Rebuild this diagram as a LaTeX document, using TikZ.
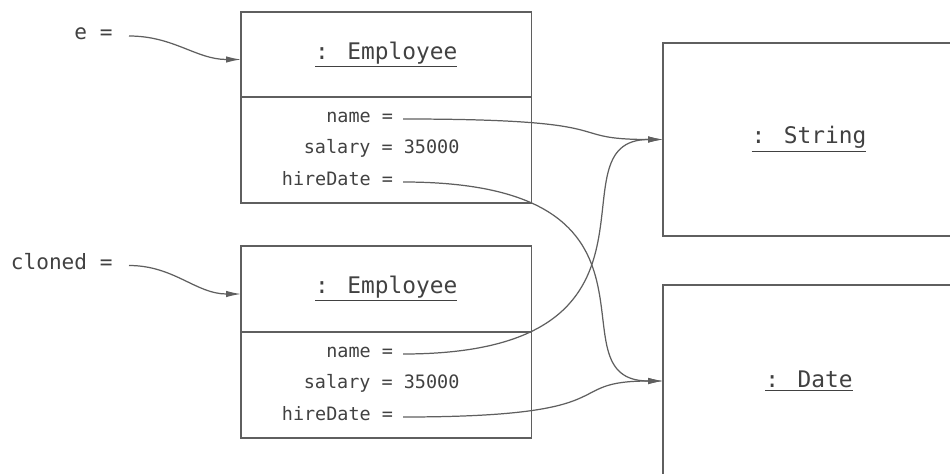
\documentclass[tikz,border=0pt]{standalone}
\usepackage{fontspec}
\newfontfamily\codefont{DejaVu Sans Mono}
\usetikzlibrary{positioning,arrows.meta}
\definecolor{ink}{RGB}{95,95,95}
\definecolor{txt}{RGB}{65,65,65}

\begin{document}
\begin{tikzpicture}[
  obj/.style={draw=ink, line width=1pt, text=txt, inner sep=0pt, outer sep=0pt,
    font=\codefont\fontsize{13}{15}\selectfont},
  fld/.style={text=txt, inner sep=0pt, font=\codefont\fontsize{10.5}{12}\selectfont},
  ptr/.style={fld, outer xsep=2mm, anchor=mid east},
  var/.style={text=txt, inner sep=0pt, outer xsep=3.3mm, anchor=mid east,
    font=\codefont\fontsize{12}{14}\selectfont},
  ref/.style={draw=ink, line width=0.7pt, -{Latex[length=3mm,width=1.3mm]}}]
  \clip (0,0) rectangle (19,9.46);
  % the two Employee objects
  \node[obj, minimum width=5.81cm, minimum height=1.7cm] (e1) at (7.725,8.37) {\underline{: Employee}};
  \node[obj, minimum width=5.81cm, minimum height=2.12cm, below=0pt of e1] (e1b) {};
  \node[obj, minimum width=5.81cm, minimum height=1.72cm, below=0.86cm of e1b] (e2) {\underline{: Employee}};
  \node[obj, minimum width=5.81cm, minimum height=2.12cm, below=0pt of e2] (e2b) {};
  % fields
  \node[ptr] (e-name) at ([shift={(0.335,0.62)}]e1b.center) {name =};
  \node[fld, anchor=mid west] (e-sal) at ([shift={(-1.655,0)}]e1b.center) {salary = 35000};
  \node[ptr] (e-hire) at ([shift={(0.335,-0.64)}]e1b.center) {hireDate =};
  \node[ptr] (c-name) at ([shift={(0.335,0.62)}]e2b.center) {name =};
  \node[fld, anchor=mid west] (c-sal) at ([shift={(-1.655,0)}]e2b.center) {salary = 35000};
  \node[ptr] (c-hire) at ([shift={(0.335,-0.64)}]e2b.center) {hireDate =};
  % shared objects
  \node[obj, minimum width=5.84cm, minimum height=3.86cm] (str) at (16.18,6.67) {\underline{: String}};
  \node[obj, minimum width=5.84cm, minimum height=3.84cm] (date) at (16.18,1.84) {\underline{: Date}};
  % variables
  \node[var] (e) at (2.58,8.74) {e =};
  \node[var] (cloned) at (2.58,4.15) {cloned =};
  \draw[ref] (e.mid east) to[out=0,in=180] ([yshift=-1mm]e1.west);
  \draw[ref] (cloned.mid east) to[out=0,in=180] ([yshift=-1mm]e2.west);
  \draw[ref] (e-name.mid east) to[out=0,in=180,out distance=4.6cm,in distance=2.1cm] (str.west);
  \draw[ref] (e-hire.mid east) to[out=0,in=180,out distance=5.85cm,in distance=2.35cm] (date.west);
  \draw[ref] (c-name.mid east) to[out=0,in=180,out distance=5.85cm,in distance=2.35cm] (str.west);
  \draw[ref] (c-hire.mid east) to[out=0,in=180,out distance=4.6cm,in distance=2.1cm] (date.west);
\end{tikzpicture}
\end{document}
